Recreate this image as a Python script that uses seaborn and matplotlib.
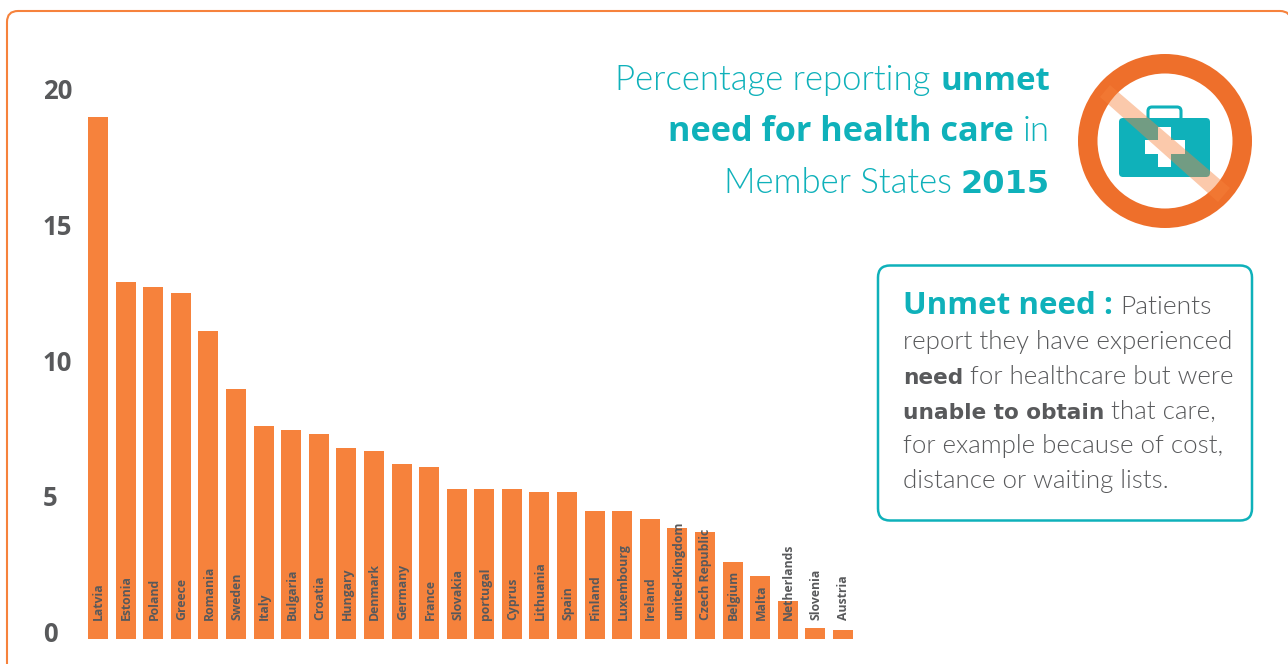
import matplotlib
matplotlib.use("Agg")
import matplotlib.pyplot as plt
from matplotlib.patches import FancyBboxPatch, Rectangle, Polygon, Wedge
import seaborn as sns
import pandas as pd

countries = ["Latvia", "Estonia", "Poland", "Greece", "Romania", "Sweden", "Italy",
             "Bulgaria", "Croatia", "Hungary", "Denmark", "Germany", "France",
             "Slovakia", "portugal", "Cyprus", "Lithuania", "Spain", "Finland",
             "Luxembourg", "Ireland", "united-Kingdom", "Czech Republic", "Belgium",
             "Malta", "Netherlands", "Slovenia", "Austria"]
values = [19.0, 13.0, 12.8, 12.6, 11.2, 9.1, 7.75, 7.6, 7.45, 6.95, 6.85, 6.35, 6.25,
          5.45, 5.45, 5.45, 5.35, 5.35, 4.65, 4.65, 4.35, 4.05, 3.9, 2.8, 2.3, 1.4, 0.4, 0.33]
y_ticks = [0, 5, 10, 15, 20]

ORANGE = "#f6823c"
RING = "#ee6f2b"
TEAL = "#0fb1ba"
GREY = "#58595b"
W, H = 1288, 664
LIGHT = "Lato"
BOLD = "Open Sans"
WIDE = "DejaVu Sans"

sns.set_theme(style="white")
plt.rcParams["font.family"] = [BOLD, "DejaVu Sans"]

fig = plt.figure(figsize=(W / 100, H / 100), dpi=100, facecolor="white")

# overlay in pixel coordinates for decoration
bg = fig.add_axes([0, 0, 1, 1], zorder=0)
bg.set_xlim(0, W); bg.set_ylim(H, 0); bg.axis("off")
bg.add_patch(FancyBboxPatch((7, 11), 1284, 800, boxstyle="round,pad=0,rounding_size=11",
                            fc="white", ec=ORANGE, lw=1.5))
bg.add_patch(FancyBboxPatch((878, 265.5), 374, 255, boxstyle="round,pad=0,rounding_size=12",
                            fc="white", ec=TEAL, lw=1.8))

# icon
bg.add_patch(Wedge((1165, 141), 87, 0, 360, width=19.5, fc=RING, ec="none"))
bg.add_patch(FancyBboxPatch((1148, 107), 33, 14, boxstyle="round,pad=0,rounding_size=4", fc="none", ec=TEAL, lw=2.2))
bg.add_patch(FancyBboxPatch((1119, 118), 91, 59, boxstyle="round,pad=0,rounding_size=4", fc=TEAL, ec="none"))
bg.add_patch(Rectangle((1158, 127), 13, 40, fc="white", ec="none"))
bg.add_patch(Rectangle((1145, 140), 40, 14, fc="white", ec="none"))
bg.add_patch(Polygon([(1100, 97), (1110, 85), (1230, 188), (1218, 202)], closed=True,
                     fc=ORANGE, ec="none", alpha=0.43))

# bars
ax = fig.add_axes([84.2 / W, 1 - 639 / H, (856.8 - 84.2) / W, 550 / H], zorder=1)
ax.patch.set_alpha(0)
df = pd.DataFrame({"country": countries, "value": values})
sns.barplot(data=df, x="country", y="value", color=ORANGE, saturation=1, width=0.725,
            linewidth=0, edgecolor="none", ax=ax)
ax.set_xlim(-0.5, len(countries) - 0.5)
ax.set_ylim(0, 20)
ax.set_xlabel(""); ax.set_ylabel("")
ax.set_xticks([]); ax.set_yticks([])
sns.despine(ax=ax, left=True, bottom=True)
for i, name in enumerate(countries):
    ax.annotate(name, (i, 0), xytext=(0.6, 13.8), textcoords="offset points", rotation=90,
                ha="center", va="bottom", fontsize=8.8, fontweight="bold", color=GREY, zorder=5)

# value axis labels (sit on their own slightly tighter scale, as in the source)
ax2 = ax.twinx()
ax2.patch.set_alpha(0)
ax2.set_ylim(-7.5 / 27.2, 20 - 1 / 27.2)
ax2.yaxis.tick_left()
ax2.set_yticks(y_ticks)
ax2.set_yticklabels([str(t) for t in y_ticks], fontsize=18.5, fontweight="bold", color=GREY, ha="left")
ax2.tick_params(axis="y", length=0, pad=29.7)
sns.despine(ax=ax2, left=True, bottom=True, right=True)

# text runs in pixel coordinates
fig.canvas.draw()
rend = fig.canvas.get_renderer()

def run_line(runs, x, y, align="left", size=25):
    artists, widths = [], []
    for txt, color, weight, *rest in runs:
        fam = rest[1] if len(rest) > 1 else (BOLD if weight == 700 else LIGHT)
        sz = rest[0] if rest else size
        t = bg.text(0, y, txt, color=color, fontweight=weight, fontsize=sz, family=fam, va="baseline", ha="left")
        artists.append(t)
        widths.append(t.get_window_extent(rend).width)
    a = bg.text(0, y, "n n", fontsize=size, fontweight=300, family=LIGHT)
    b = bg.text(0, y, "nn", fontsize=size, fontweight=300, family=LIGHT)
    s = a.get_window_extent(rend).width - b.get_window_extent(rend).width
    a.remove(); b.remove()
    total = sum(widths) + s * (len(runs) - 1)
    cx = x - total if align == "right" else x
    for t, w in zip(artists, widths):
        t.set_x(cx)
        cx += w + s

ts = 25.0
run_line([("Percentage reporting", TEAL, 300), ("unmet", TEAL, 700, 23.8)], 1050, 90, "right", ts)
run_line([("need for health care", TEAL, 700, 24.7), ("in", TEAL, 300)], 1050, 141, "right", ts)
run_line([("Member States", TEAL, 300), ("2015", TEAL, 700, 23, WIDE)], 1050, 193, "right", ts)

bx, bb = 18.6, 15.6
run_line([("Unmet need :", TEAL, 700, 22.6), ("Patients", GREY, 300, 19)], 903, 314, size=bx)
run_line([("report they have experienced", GREY, 300)], 903, 349, size=bx)
run_line([("need", GREY, 700, bb, WIDE), ("for healthcare but were", GREY, 300)], 903, 384, size=bx)
run_line([("unable to obtain", GREY, 700, bb, WIDE), ("that care,", GREY, 300)], 903, 419, size=bx)
run_line([("for example because of cost,", GREY, 300)], 903, 453, size=bx)
run_line([("distance or waiting lists.", GREY, 300)], 903, 488, size=bx)

fig.savefig("out.png", dpi=100, facecolor="white")
